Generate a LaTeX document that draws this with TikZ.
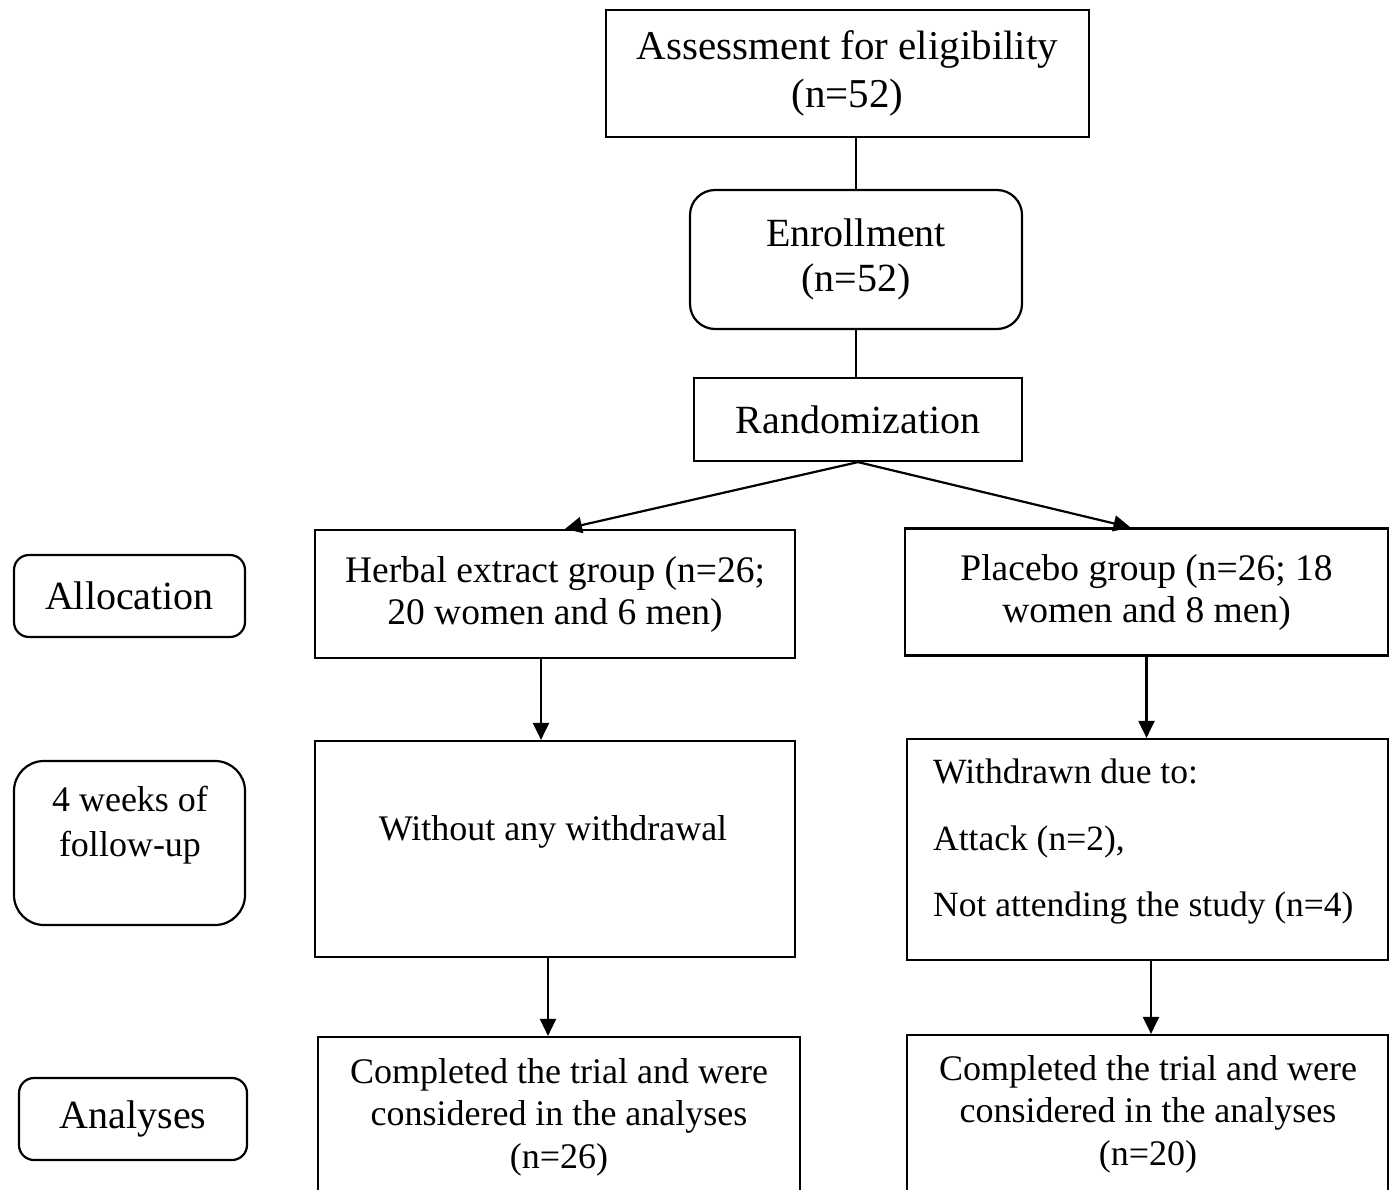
\documentclass[tikz,border=0pt]{standalone}
\usepackage{fontspec}
\setmainfont{Liberation Serif}
\usetikzlibrary{arrows.meta}
\begin{document}
\begin{tikzpicture}[x=1pt,y=-1pt,
  box/.style={draw=black,line width=2.2pt,inner sep=0pt,align=center},
  rbox/.style={box,rounded corners=#1},
  fa/.style={font=\fontsize{41}{48}\selectfont},
  fb/.style={font=\fontsize{40}{45}\selectfont},
  fc/.style={font=\fontsize{37.5}{42}\selectfont},
  fd/.style={font=\fontsize{36}{43}\selectfont},
  conn/.style={line width=2.2pt},
  arr/.style={line width=2.2pt,-{Triangle[length=17pt,width=16pt]}}]
\useasboundingbox (0,0) rectangle (1394,1190);
\clip (0,0) rectangle (1394,1190);
\fill[white] (0,0) rectangle (1394,1190);
% main column boxes
\node[box,fa,minimum width=483pt,minimum height=127pt] (assess) at (847.5,73.5) {Assessment for eligibility\\(n=52)};
\node[rbox=25pt,fb,minimum width=332pt,minimum height=139pt] (enroll) at (856,259.5) {Enrollment\\(n=52)};
\node[box,fb,minimum width=328pt,minimum height=83pt] (random) at (858,419.5) {Randomization};
\node[box,fc,minimum width=480pt,minimum height=128pt] (herbal) at (555,594) {Herbal extract group (n=26;\\20 women and 6 men)};
\node[box,fc,minimum width=483pt,minimum height=127pt] (placebo) at (1146.5,592) {Placebo group (n=26; 18\\women and 8 men)};
\node[box,minimum width=480pt,minimum height=216pt] (without) at (555,849) {};
\node[fd] (withouttxt) at (553,832) {Without any withdrawal};
\node[box,minimum width=481pt,minimum height=221pt] (withdrawn) at (1147.5,849.5) {};
\node[font=\fontsize{35.5}{66.5}\selectfont,align=left,anchor=north west,inner sep=0pt] (withdrawntxt) at (933,759) {Withdrawn due to:\\Attack (n=2),\\Not attending the study (n=4)};
\node[box,minimum width=482pt,minimum height=173pt] (compL) at (559,1123.5) {};
\node[align=center,font=\fontsize{36}{42.5}\selectfont] (compLtxt) at (559,1117) {Completed the trial and were\\considered in the analyses\\(n=26)};
\node[box,minimum width=481pt,minimum height=175pt] (compR) at (1147.5,1122.5) {};
\node[align=center,font=\fontsize{36}{42.5}\selectfont] (compRtxt) at (1148,1114) {Completed the trial and were\\considered in the analyses\\(n=20)};
% left stage labels
\node[rbox=15pt,fb,minimum width=231pt,minimum height=82pt] (alloc) at (129.5,596) {Allocation};
\node[rbox=30pt,minimum width=231pt,minimum height=164pt] (weeks) at (129.5,843) {};
\node[align=center,font=\fontsize{36}{45}\selectfont] (weekstxt) at (130,825) {4 weeks of\\follow-up};
\node[rbox=15pt,fb,minimum width=228pt,minimum height=82pt] (analyses) at (133,1119) {Analyses};
% connectors
\draw[conn] (enroll.north |- assess.south) -- (enroll.north);
\draw[conn] (enroll.south) -- (enroll.south |- random.north);
\draw[arr] (random.south) -- ([xshift=10pt]herbal.north);
\draw[arr] (random.south) -- ([xshift=-16pt]placebo.north);
\draw[arr] ([xshift=-14pt]herbal.south) -- ([xshift=-14pt]without.north);
\draw[arr] (placebo.south) -- (placebo.south |- withdrawn.north);
\draw[arr] ([xshift=-7pt]without.south) -- ([xshift=-7pt]without.south |- compL.north);
\draw[arr] ([xshift=3.5pt]withdrawn.south) -- ([xshift=3.5pt]withdrawn.south |- compR.north);
\end{tikzpicture}
\end{document}
